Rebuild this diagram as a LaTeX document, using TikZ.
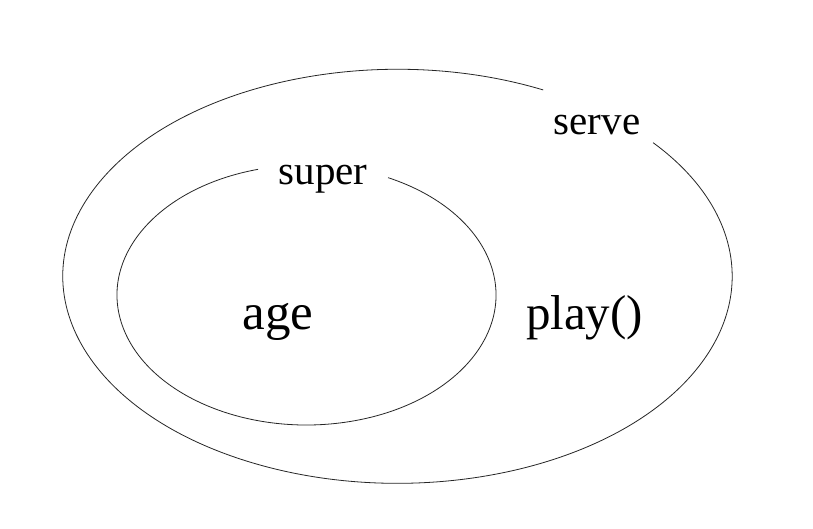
\documentclass[tikz,border=0pt]{standalone}
\usepackage{fontspec}
\setmainfont{Liberation Serif}
\begin{document}
\begin{tikzpicture}[x=1pt,y=1pt,
  ring/.style={line width=0.8pt,draw=black!85},
  biglabel/.style={anchor=base,inner sep=0pt,font=\fontsize{49}{49}\selectfont},
  setlabel/.style={anchor=base,inner sep=0pt,font=\fontsize{41}{41}\selectfont}]
\useasboundingbox[fill=white] (0,0) rectangle (813,529);
% outer ellipse (serve), gap for label
\coordinate (oc) at (397.5,252.7);
\draw[ring] ([shift={(64.2:334.7 and 207)}]oc) arc[start angle=64.2,end angle=400.2,x radius=334.7,y radius=207];
% inner ellipse (super), gap for label
\coordinate (ic) at (306.5,234);
\draw[ring] ([shift={(104.8:189.5 and 130)}]ic) arc[start angle=104.8,end angle=424.5,x radius=189.5,y radius=130];
\node[setlabel] (serve) at (597,394.5) {serve};
\node[setlabel] (super) at (323,344.5) {super};
\node[biglabel,font=\fontsize{51}{51}\selectfont] (age) at (278,199.5) {age};
\node[biglabel] (play) at (584.5,199.5) {play()};
\end{tikzpicture}
\end{document}
